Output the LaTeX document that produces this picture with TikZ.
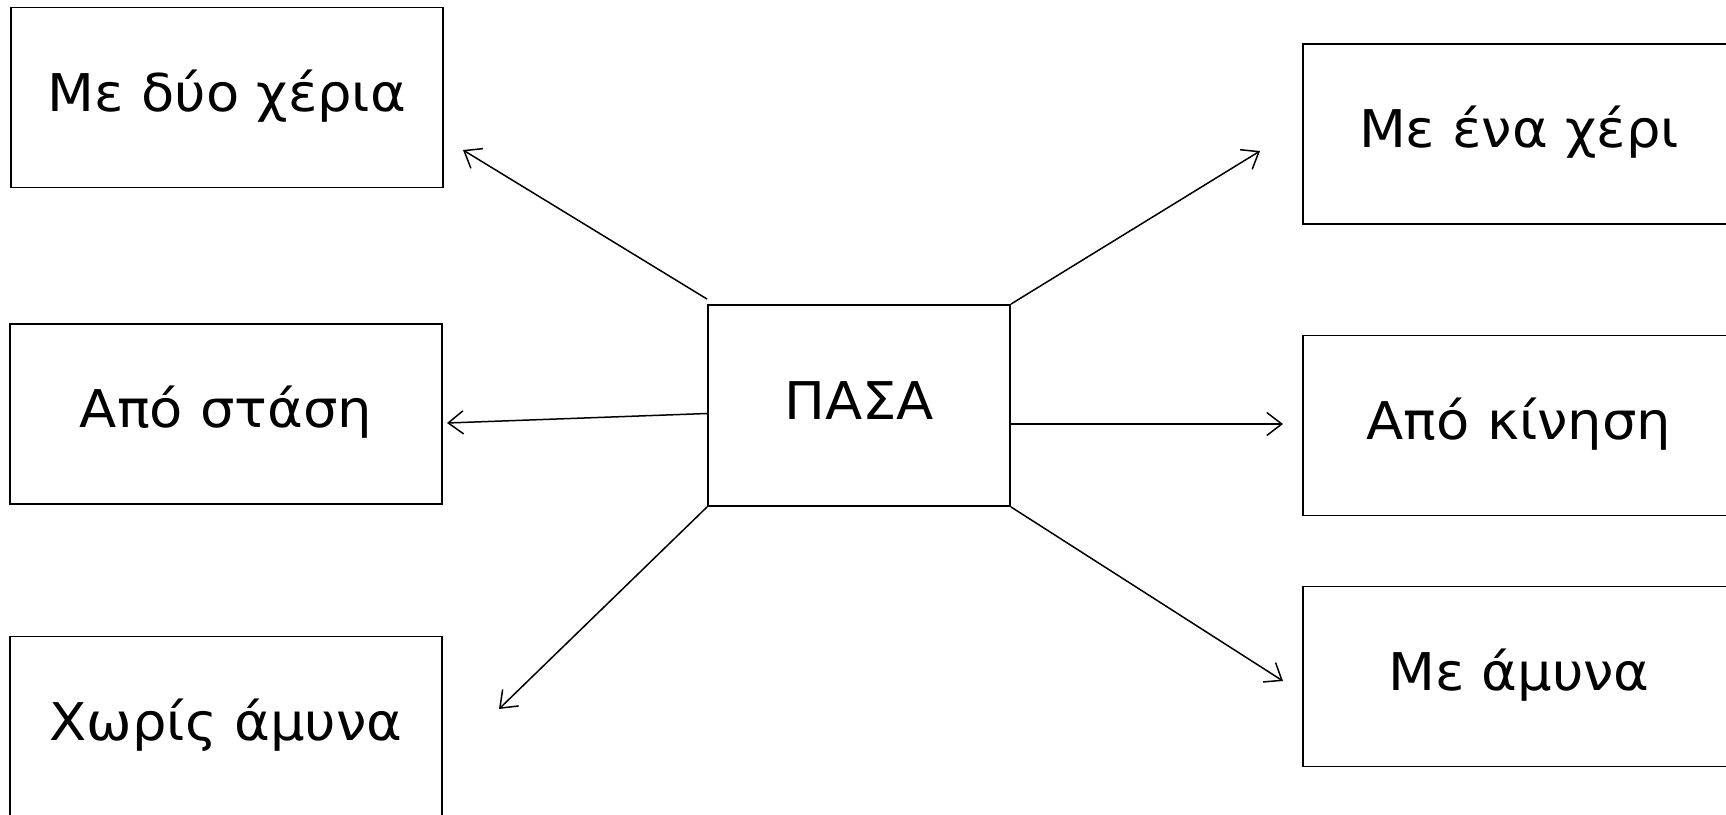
\documentclass[tikz,border=0pt]{standalone}
\usepackage{fontspec}
\setmainfont{DejaVu Sans}[FakeStretch=1.045]
\usetikzlibrary{arrows.meta}
\begin{document}
\begin{tikzpicture}[x=1pt,y=-1pt,
  box/.style={draw,line width=1.8pt,inner sep=0pt,minimum width=432pt,minimum height=180pt,
    font=\fontsize{52}{60}\selectfont,text height=39.5pt,text depth=12.5pt},
  hub/.style={box,minimum width=302pt,minimum height=201pt},
  link/.style={line width=1.5pt,-{Straight Barb[length=15pt,width=23pt,line width=1.5pt]}}]
\useasboundingbox (0,0) rectangle (1726,814);
\node[box] (a1) at (227,97.5) {Με δύο χέρια};
\node[box] (a2) at (226,414) {Από στάση};
\node[box] (a3) at (226,726.5) {Χωρίς άμυνα};
\node[hub] (p) at (859,405.5) {ΠΑΣΑ};
\node[box] (b1) at (1519,134) {Με ένα χέρι};
\node[box] (b2) at (1519,425.5) {Από κίνηση};
\node[box] (b3) at (1519,676.5) {Με άμυνα};
\coordinate (t1) at (463,150);
\coordinate (t2) at (447,423);
\coordinate (t3) at (499,709);
\coordinate (t4) at (1260,151);
\coordinate (t5) at (1283,424);
\coordinate (t6) at (1283,681);
\draw[link] ([yshift=5pt]p.north west) -- (t1);
\draw[link] ([yshift=-8pt]p.west) -- (t2);
\draw[link] (p.south west) -- (t3);
\draw[link] (p.north east) -- (t4);
\draw[link] ([yshift=-18.5pt]p.east) -- (t5);
\draw[link] (p.south east) -- (t6);
\end{tikzpicture}
\end{document}
